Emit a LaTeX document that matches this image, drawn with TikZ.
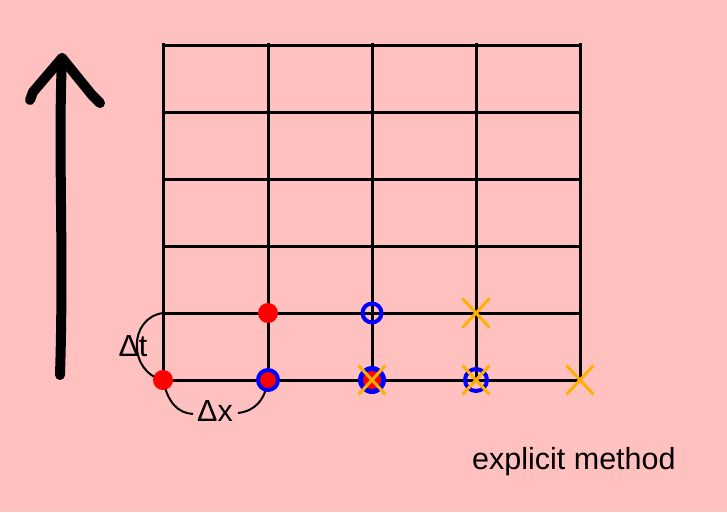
\documentclass[tikz,border=0pt]{standalone}
\usepackage{fontspec}
\setmainfont{Liberation Sans}
\usetikzlibrary{positioning,calc}
\definecolor{bgpink}{RGB}{255,192,192}
\definecolor{dotred}{RGB}{255,0,0}
\definecolor{ringblue}{RGB}{0,0,255}
\definecolor{crossorange}{RGB}{255,176,0}
\tikzset{
  gridline/.style={line width=3pt, black},
  reddot/.style={fill=dotred, draw=none},
  bluering/.style={draw=ringblue, line width=4pt},
  orangex/.style={draw=crossorange, line width=3pt, line cap=round},
  lbl/.style={font=\fontsize{30.5}{34}\selectfont, inner sep=1pt}
}
\newcommand{\crossmark}[1]{%
  \draw[orangex] ($(#1)+(-13,-14)$) -- ($(#1)+(13,14)$);
  \draw[orangex] ($(#1)+(-13,14)$) -- ($(#1)+(13,-14)$);}
\begin{document}
\begin{tikzpicture}[x=1pt,y=-1pt]
\fill[bgpink] (0,0) rectangle (727,512);
\useasboundingbox (0,0) rectangle (727,512);
% grid points
\foreach \i/\x in {0/163,1/268,2/372,3/476,4/580}
  \foreach \j/\y in {0/380,1/313,2/246,3/179,4/112,5/45}
    \coordinate (g-\i-\j) at (\x,\y);
% grid
\foreach \i in {0,...,4}
  \draw[gridline] ($(g-\i-5)+(0,-2)$) -- (g-\i-0);
\foreach \j in {0,...,5}
  \draw[gridline] (g-0-\j) -- (g-4-\j);
% time arrow
\coordinate (arrbot) at (60,375);
\coordinate (arrtip) at (62,58);
\draw[line width=10pt, line cap=round, line join=round]
  (arrbot) .. controls (64,250) and (58,150) .. (arrtip);
\draw[line width=10pt, line cap=round, line join=round]
  (30,100) -- (33,92) -- (arrtip) -- (92,95) -- (100,103);
% step arcs
\draw[line width=2pt] (g-0-1) .. controls (128,318) and (128,372) .. (g-0-0);
\node[lbl] (dt) at (133,346) {Δt};
\draw[line width=2pt] (g-0-0) .. controls (168,403) and (178,413) .. (193,414);
\draw[line width=2pt] (238,413) .. controls (255,411) and (265,400) .. (g-1-0);
\node[lbl] (dx) at (215,411) {Δx};
% points
\fill[reddot] (g-0-0) circle (10);
\fill[reddot] (g-1-1) circle (10);
\fill[reddot] (g-1-0) circle (9);
\draw[bluering] (g-1-0) circle (10);
\fill[ringblue] (g-2-0) circle (14);
\fill[reddot] (g-2-0) circle (9);
\draw[bluering] (g-2-1) circle (9.5);
\draw[bluering] (g-3-0) circle (11);
\crossmark{g-2-0}
\crossmark{g-3-0}
\crossmark{g-3-1}
\crossmark{g-4-0}
\node[lbl, anchor=base west] (title) at (471,469) {explicit method};
\end{tikzpicture}
\end{document}
